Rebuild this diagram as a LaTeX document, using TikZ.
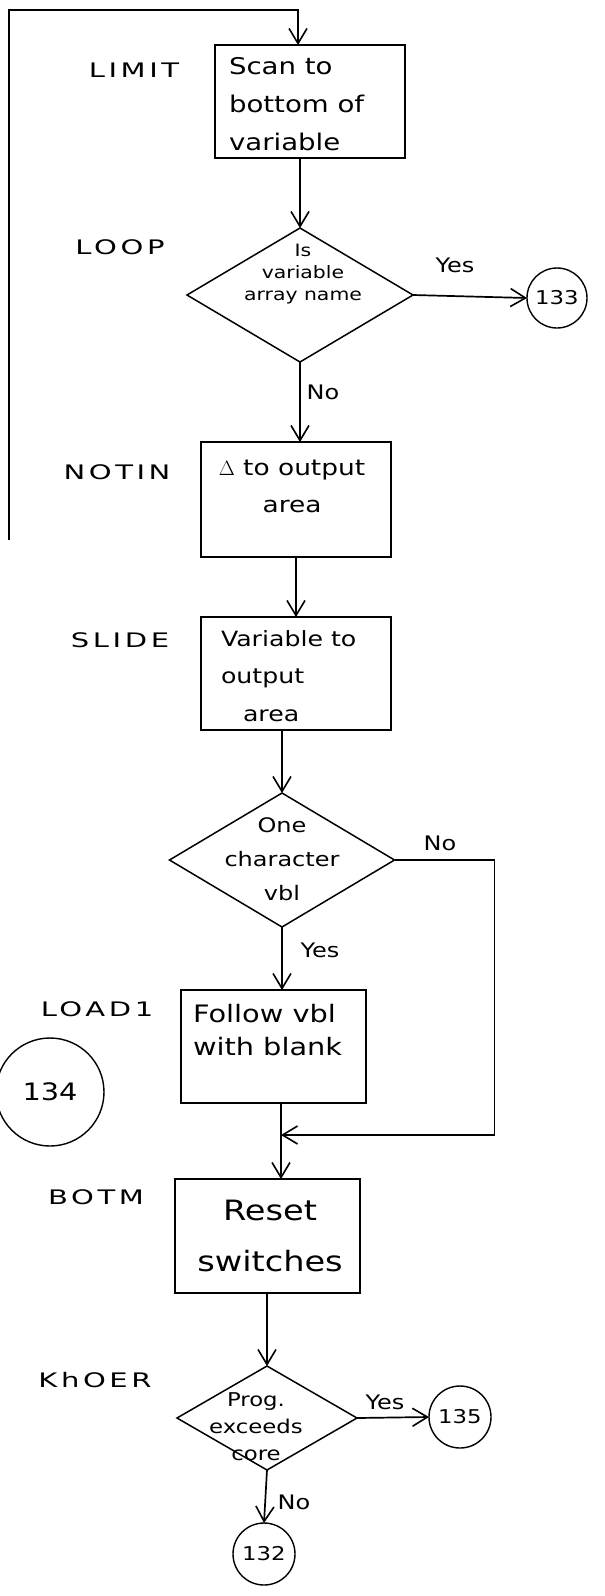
\documentclass[tikz,border=0pt]{standalone}
\usepackage{fontspec}
\setmainfont{DejaVu Sans}
\newfontfamily\hand[FakeStretch=1.2]{DejaVu Sans}
\newfontfamily\labf[FakeStretch=1.45,LetterSpace=18]{DejaVu Sans}
\usetikzlibrary{arrows.meta,shapes.geometric,calc}
\begin{document}
\begin{tikzpicture}[x=1pt,y=-1pt,
  line width=1.7pt,
  every node/.style={inner sep=0pt, outer sep=0pt},
  proc/.style={draw, rectangle, line width=1.5pt},
  dec/.style={draw, diamond, line width=1.5pt},
  conn/.style={draw, circle, line width=1.4pt},
  txt/.style={align=center},
  lab/.style={font=\labf\fontsize{20}{20}\selectfont},
  yn/.style={font=\hand\fontsize{20}{20}\selectfont},
  arr/.style={-{Straight Barb[length=15pt,width=18pt,line width=1.6pt]}}
]
\path[use as bounding box, fill=white] (0,0) rectangle (605,1596);

% labels
\node[lab] (lLIMIT) at (134,70) {LIMIT};
\node[lab] (lLOOP) at (120,247) {LOOP};
\node[lab] (lNOTIN) at (117,472) {NOTIN};
\node[lab] (lSLIDE) at (120,640) {SLIDE};
\node[lab] (lLOAD) at (97,1009) {LOAD1};
\node[lab] (lBOTM) at (96,1197) {BOTM};
\node[lab] (lKHOER) at (95,1380) {KhOER};

% boxes
\node[proc, minimum width=190pt, minimum height=113pt] (b1) at (310,101.5) {};
\node[txt, align=left, anchor=west, font=\hand\fontsize{23}{38}\selectfont] (b1t) at (229,104) {Scan to\\bottom of\\variable};

\node[dec, minimum width=226pt, minimum height=134pt] (d1) at (300,295) {};
\node[txt, font=\hand\fontsize{17}{22}\selectfont] (d1t) at (303,274) {Is\\variable\\array name};

\node[conn, minimum size=60pt, font=\hand\fontsize{19}{19}\selectfont] (c133) at (557,298) {133};

\node[proc, minimum width=190pt, minimum height=115pt] (b2) at (296,499.5) {};
\node[txt, font=\hand\fontsize{22}{37}\selectfont] (b2t) at (292,486) {$\Delta$ to output\\area};

\node[proc, minimum width=190pt, minimum height=113pt] (b3) at (296,673.5) {};
\node[txt, align=left, anchor=west, font=\hand\fontsize{21}{37.5}\selectfont] (b3t) at (221,676) {Variable to\\output\\\hspace*{22pt}area};

\node[dec, minimum width=225pt, minimum height=134pt] (d2) at (282,860) {};
\node[txt, font=\hand\fontsize{20}{34}\selectfont] (d2t) at (282,859) {One\\character\\vbl};

\node[proc, minimum width=185pt, minimum height=113pt] (b4) at (273.5,1046.5) {};
\node[txt, align=left, anchor=west, font=\hand\fontsize{24}{33}\selectfont] (b4t) at (193,1030) {Follow vbl\\with blank};

\node[conn, minimum size=108pt, font=\hand\fontsize{24}{24}\selectfont] (c134) at (50,1092) {134};

\node[proc, minimum width=185pt, minimum height=114pt] (b5) at (267.5,1236) {};
\node[txt, font=\hand\fontsize{28}{51}\selectfont] (b5t) at (270,1236) {Reset\\switches};

\node[dec, minimum width=180pt, minimum height=104pt] (d3) at (267,1418) {};
\node[txt, font=\hand\fontsize{19}{27}\selectfont] (d3t) at (256,1427) {Prog.\\exceeds\\core};

\node[conn, minimum size=62pt, font=\hand\fontsize{19}{19}\selectfont] (c135) at (460,1417) {135};
\node[conn, minimum size=62pt, font=\hand\fontsize{19}{19}\selectfont] (c132) at (264,1554) {132};

% connector labels
\node[yn] (y1) at (455,265) {Yes};
\node[yn] (n1) at (323,392) {No};
\node[yn] (n2) at (440,843) {No};
\node[yn] (y2) at (320,950) {Yes};
\node[yn] (y3) at (385,1402) {Yes};
\node[yn] (n3) at (294,1502) {No};

% connectors
\coordinate (lend) at (9,540);
\coordinate (top) at (298,10);
\coordinate (j) at (281,1135);
\draw[arr] (lend) |- (top) -- (top |- b1.north);
\draw[arr] (b1.south -| d1.north) -- (d1.north);
\draw[arr] (d1.east) -- (c133.west);
\draw[arr] (d1.south) -- (d1.south |- b2.north);
\draw[arr] (b2.south) -- (b3.north);
\draw[arr] (b3.south -| d2.north) -- (d2.north);
\draw[arr] (d2.east) -- ++(100,0) |- (j);
\draw[arr] (d2.south) -- (d2.south |- b4.north);
\draw[arr] (b4.south -| j) -- (j |- b5.north);
\draw[arr] (b5.south -| d3.north) -- (d3.north);
\draw[arr] (d3.east) -- (c135.west);
\draw[arr] (d3.south) -- (c132.north);
\end{tikzpicture}
\end{document}
